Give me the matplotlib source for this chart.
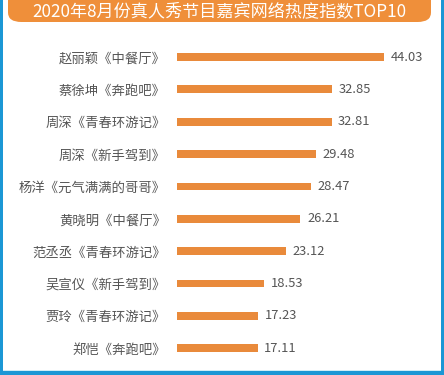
import matplotlib
matplotlib.use("Agg")
import matplotlib.pyplot as plt
from matplotlib.patches import Rectangle, FancyBboxPatch

plt.rcParams['font.family'] = ['Noto Sans CJK SC', 'DejaVu Sans']

title = "2020年8月份真人秀节目嘉宾网络热度指数TOP10"
names = ["赵丽颖《中餐厅》", "蔡徐坤《奔跑吧》", "周深《青春环游记》", "周深《新手驾到》",
         "杨洋《元气满满的哥哥》", "黄晓明《中餐厅》", "范丞丞《青春环游记》", "吴宣仪《新手驾到》",
         "贾玲《青春环游记》", "郑恺《奔跑吧》"]
values = [44.03, 32.85, 32.81, 29.48, 28.47, 26.21, 23.12, 18.53, 17.23, 17.11]

W, H = 444, 375
fig = plt.figure(figsize=(W / 100, H / 100), dpi=100)
fig.patch.set_facecolor('#1b97d5')

def fx(px):
    return px / W

def fy(py):
    return 1 - py / H

# white inner panel
fig.patches.append(Rectangle((fx(3), fy(371)), fx(438), 371 / H, transform=fig.transFigure,
                             facecolor='white', edgecolor='none', zorder=-2))
# thin light line at bottom
fig.patches.append(Rectangle((fx(3), fy(371)), fx(438), 1.5 / H, transform=fig.transFigure,
                             facecolor='#cfeef6', edgecolor='none', zorder=-1))
# title banner (rounded bottom corners)
fig.patches.append(FancyBboxPatch((fx(8), fy(22)), fx(423), 40 / H,
                                  boxstyle="round,pad=0,rounding_size=0.03",
                                  transform=fig.transFigure, mutation_aspect=H / W,
                                  facecolor='#ef8f3a', edgecolor='none', zorder=-1))
fig.text(fx(219), fy(11), title, color='white', fontsize=12.3, ha='center', va='center', zorder=2)

ax = fig.add_axes([fx(177), (H - 365) / H, 263 / W, 330 / H])
ax.set_zorder(5)
ax.set_facecolor('none')
y = list(range(len(names)))
ax.barh(y, values, height=0.24, color='#e98a3b')
for yi, v in zip(y, values):
    ax.text(v + 1.4, yi, f"{v:.2f}", va='center', ha='left', fontsize=9.3, color='#555555')
ax.set_xlim(0, 263 / 4.71)
ax.set_ylim((365 - 57) / 32.35, (35 - 57) / 32.35)
ax.set_yticks(y)
ax.set_yticklabels(names, fontsize=9.6, color='#555555')
ax.tick_params(axis='y', length=0, pad=8)
ax.set_xticks([])
for s in ax.spines.values():
    s.set_visible(False)

fig.savefig("out.png", dpi=100, facecolor=fig.get_facecolor())
